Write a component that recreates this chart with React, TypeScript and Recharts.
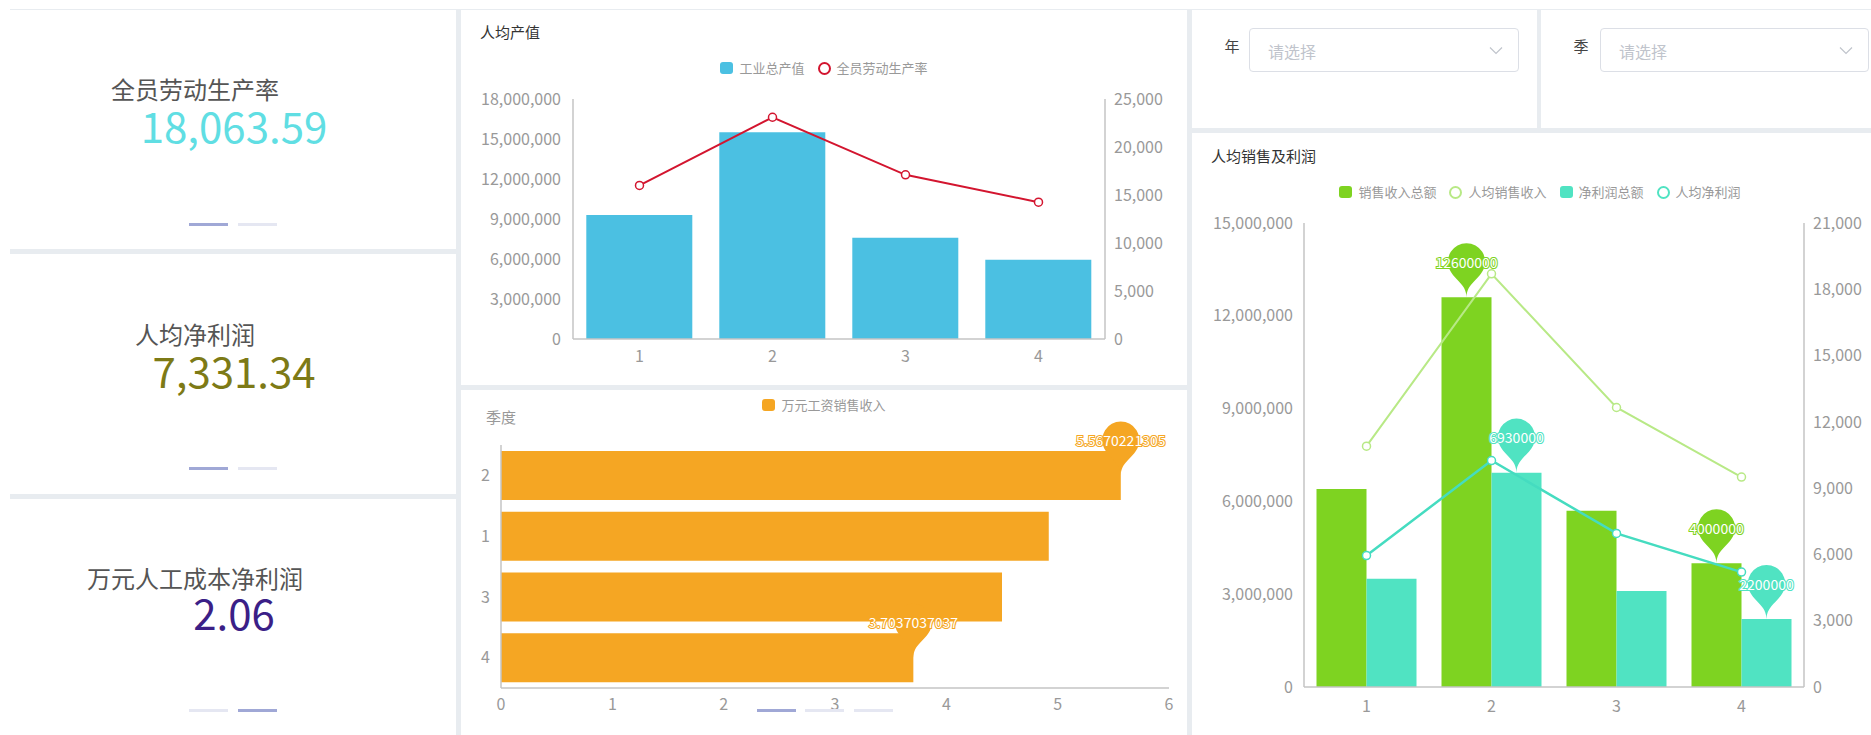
import React from "react";
import { ComposedChart, BarChart, Bar, Line, XAxis, YAxis, LabelList } from "recharts";

// ---- data ----
const kpiTitles = ["全员劳动生产率", "人均净利润", "万元人工成本净利润"];
const kpiValues = ["18,063.59", "7,331.34", "2.06"];

const quarters = ["1", "2", "3", "4"];
const grossOutput = [9300000, 15500000, 7600000, 5950000];
const laborProductivity = [16000, 23100, 17100, 14250];
const outputTicks = [0, 3000000, 6000000, 9000000, 12000000, 15000000, 18000000];
const productivityTicks = [0, 5000, 10000, 15000, 20000, 25000];

const wageQuarters = ["2", "1", "3", "4"];
const wageSales = [5.5670221305, 4.92, 4.5, 3.7037037037];
const wageTicks = [0, 1, 2, 3, 4, 5, 6];

const salesTotal = [6400000, 12600000, 5700000, 4000000];
const salesPerCapita = [10900, 18700, 12650, 9500];
const profitTotal = [3500000, 6930000, 3100000, 2200000];
const profitPerCapita = [5950, 10250, 6950, 5200];
const salesTicks = [0, 3000000, 6000000, 9000000, 12000000, 15000000];
const perCapitaTicks = [0, 3000, 6000, 9000, 12000, 15000, 18000, 21000];

const outputData = quarters.map((q, i) => ({ quarter: q, gross: grossOutput[i], rate: laborProductivity[i] }));
const wageData = wageQuarters.map((q, i) => ({ quarter: q, value: wageSales[i] }));
const salesData = quarters.map((q, i) => ({
  quarter: q,
  sales: salesTotal[i],
  salesPer: salesPerCapita[i],
  profit: profitTotal[i],
  profitPer: profitPerCapita[i],
}));

// ---- styles ----
const FONT = '"Noto Sans CJK SC", "Open Sans", sans-serif';
const BLUE = "#4bc0e2";
const RED = "#d3152f";
const ORANGE = "#f5a623";
const GREEN = "#7ed321";
const TEAL = "#50e3c2";
const TEAL_LINE = "#45dcc0";
const LIGHT_GREEN = "#b8e986";
const AXIS = "#c4c4c4";
const GAP = "#e8ecf0";
const tick = { fill: "#999", fontSize: 16 };
const fmt = (v: number) => v.toLocaleString("en-US");
const PIN_SIZE = 62;

// echarts-like pin balloon, tip at (x, y)
function pinPath(x: number, y: number, size: number) {
  const w = (size / 5) * 3;
  const h = Math.max(w, size);
  const r = w / 2;
  const dy = (r * r) / (h - r);
  const cy = y - h + r + dy;
  const angle = Math.asin(dy / r);
  const dx = Math.cos(angle) * r;
  const tanX = Math.sin(angle);
  const tanY = Math.cos(angle);
  const cp = r * 0.6;
  const cp2 = r * 0.7;
  const d =
    `M${x - dx},${cy + dy} A${r},${r} 0 1 1 ${x + dx},${cy + dy} ` +
    `C${x + dx - tanX * cp},${cy + dy + tanY * cp} ${x},${y - cp2} ${x},${y} ` +
    `C${x},${y - cp2} ${x - dx + tanX * cp},${cy + dy + tanY * cp} ${x - dx},${cy + dy} Z`;
  return { d, cy };
}

function makePin(values: number[], color: string, horizontal: boolean) {
  const max = Math.max(...values);
  const min = Math.min(...values);
  return (props: any) => {
    const value = Number(props.value);
    if (value !== max && value !== min) return null;
    const vb = props.viewBox ?? props;
    const x = Number(vb.x);
    const y = Number(vb.y);
    const w = Number(vb.width);
    const h = Number(vb.height);
    const tipX = horizontal ? x + w : x + w / 2;
    const tipY = horizontal ? y + h / 2 : y;
    const { d, cy } = pinPath(tipX, tipY, PIN_SIZE);
    return (
      <g key={`pin-${props.index}`}>
        <path d={d} fill={color} />
        <text
          x={tipX}
          y={cy}
          textAnchor="middle"
          dominantBaseline="central"
          fontSize={14}
          fill="#fff"
          stroke={color}
          strokeWidth={2}
          paintOrder="stroke"
        >
          {String(props.value)}
        </text>
      </g>
    );
  };
}

type LegendItem = { name: string; color: string; kind: "rect" | "ring" };

function ChartLegend({ items, left, width, top }: { items: LegendItem[]; left: number; width: number; top: number }) {
  return (
    <div
      style={{
        position: "absolute",
        left,
        width,
        top: top - 8,
        height: 16,
        display: "flex",
        justifyContent: "center",
        alignItems: "center",
        gap: 13,
        fontSize: 13,
        color: "#999",
        lineHeight: "16px",
      }}
    >
      {items.map((it) => (
        <div key={it.name} style={{ display: "flex", alignItems: "center", gap: 6 }}>
          {it.kind === "rect" ? (
            <div style={{ width: 13, height: 12, borderRadius: 3, background: it.color }} />
          ) : (
            <div style={{ width: 9, height: 9, borderRadius: "50%", border: `2px solid ${it.color}`, background: "#fff" }} />
          )}
          <span>{it.name}</span>
        </div>
      ))}
    </div>
  );
}

function Panel({ x, y, w, h, children }: { x: number; y: number; w: number; h: number; children?: React.ReactNode }) {
  return <div style={{ position: "absolute", left: x, top: y, width: w, height: h, background: "#fff" }}>{children}</div>;
}

function Dashes({ xs, y, active }: { xs: number[]; y: number; active: number }) {
  return (
    <>
      {xs.map((x, i) => (
        <div
          key={i}
          style={{
            position: "absolute",
            left: x,
            top: y - 1,
            width: 39,
            height: 3,
            background: i === active ? "#a0a8d6" : "#e5e7f2",
          }}
        />
      ))}
    </>
  );
}

function Centered({ x, y, size, color, children }: { x: number; y: number; size: number; color: string; children: React.ReactNode }) {
  return (
    <div
      style={{
        position: "absolute",
        left: x,
        top: y,
        transform: "translate(-50%, -50%)",
        fontSize: size,
        lineHeight: 1,
        color,
        whiteSpace: "nowrap",
      }}
    >
      {children}
    </div>
  );
}

function SelectBox({ label, labelX, x, w }: { label: string; labelX: number; x: number; w: number }) {
  return (
    <>
      <Centered x={labelX} y={45} size={15} color="#444">
        {label}
      </Centered>
      <div
        style={{
          position: "absolute",
          left: x,
          top: 28,
          width: w,
          height: 44,
          boxSizing: "border-box",
          border: "1px solid #dcdfe6",
          borderRadius: 4,
          background: "#fff",
        }}
      >
        <div style={{ position: "absolute", left: 18, top: 12, fontSize: 16, lineHeight: "20px", color: "#c0c4cc" }}>请选择</div>
        <svg style={{ position: "absolute", right: 15, top: 17 }} width={14} height={9}>
          <polyline points="1,1.5 7,7.5 13,1.5" fill="none" stroke="#c0c4cc" strokeWidth={1.2} />
        </svg>
      </div>
    </>
  );
}

const kpiLayout = [
  { titleY: 89, valueY: 125, dashY: 224, active: 0, color: "#60dee3" },
  { titleY: 334, valueY: 370, dashY: 468, active: 0, color: "#7d7a16" },
  { titleY: 578, valueY: 612, dashY: 710, active: 1, color: "#3b1f87" },
];

export default function App() {
  return (
    <div
      style={{
        position: "fixed",
        left: 0,
        top: 0,
        width: 1871,
        height: 735,
        background: "#fff",
        overflow: "hidden",
        fontFamily: FONT,
      }}
    >
      <div style={{ position: "absolute", left: 10, top: 9, right: 0, bottom: 0, background: GAP }} />

      {/* left KPI cards */}
      <Panel x={10} y={10} w={446} h={239} />
      <Panel x={10} y={254} w={446} h={240} />
      <Panel x={10} y={499} w={446} h={236} />
      {kpiLayout.map((k, i) => (
        <React.Fragment key={i}>
          <Centered x={195} y={k.titleY} size={24} color="#555">
            {kpiTitles[i]}
          </Centered>
          <Centered x={234} y={k.valueY} size={42} color={k.color}>
            {kpiValues[i]}
          </Centered>
          <Dashes xs={[189, 238]} y={k.dashY} active={k.active} />
        </React.Fragment>
      ))}

      {/* middle top: 人均产值 */}
      <Panel x={461} y={10} w={726} h={375}>
        <div style={{ position: "absolute", left: 19, top: 12, fontSize: 15, lineHeight: "20px", color: "#333" }}>人均产值</div>
        <ComposedChart
          width={726}
          height={375}
          data={outputData}
          margin={{ top: 89, right: 0, bottom: 0, left: 0 }}
          barCategoryGap="10%"
          style={{ position: "absolute", left: 0, top: 0 }}
        >
          <XAxis dataKey="quarter" height={46} axisLine={{ stroke: AXIS, strokeWidth: 1.5 }} tickLine={false} tick={tick} tickMargin={6} />
          <YAxis
            yAxisId="left"
            width={112}
            domain={[0, 18000000]}
            ticks={outputTicks}
            tickFormatter={fmt}
            axisLine={{ stroke: AXIS, strokeWidth: 1.5 }}
            tickLine={false}
            tick={tick}
            tickMargin={6}
          />
          <YAxis
            yAxisId="right"
            orientation="right"
            width={82}
            domain={[0, 25000]}
            ticks={productivityTicks}
            tickFormatter={fmt}
            axisLine={{ stroke: AXIS, strokeWidth: 1.5 }}
            tickLine={false}
            tick={tick}
            tickMargin={3}
          />
          <Bar yAxisId="left" dataKey="gross" fill={BLUE} isAnimationActive={false} />
          <Line
            yAxisId="right"
            type="linear"
            dataKey="rate"
            stroke={RED}
            strokeWidth={2}
            dot={{ r: 4, fill: "#fff", stroke: RED, strokeWidth: 1.5 }}
            isAnimationActive={false}
          />
        </ComposedChart>
      </Panel>
      <ChartLegend
        left={461}
        width={726}
        top={68}
        items={[
          { name: "工业总产值", color: BLUE, kind: "rect" },
          { name: "全员劳动生产率", color: RED, kind: "ring" },
        ]}
      />

      {/* middle bottom: 万元工资销售收入 */}
      <Panel x={461} y={390} w={726} h={345}>
        <BarChart
          layout="vertical"
          width={726}
          height={345}
          data={wageData}
          margin={{ top: 55, right: 18, bottom: 0, left: 0 }}
          barCategoryGap="10%"
          style={{ position: "absolute", left: 0, top: 0 }}
        >
          <XAxis
            type="number"
            domain={[0, 6]}
            ticks={wageTicks}
            height={47}
            axisLine={{ stroke: AXIS, strokeWidth: 1.5 }}
            tickLine={false}
            tick={tick}
            tickMargin={5}
          />
          <YAxis
            type="category"
            dataKey="quarter"
            width={40}
            axisLine={{ stroke: AXIS, strokeWidth: 1.5 }}
            tickLine={false}
            tick={tick}
            tickMargin={5}
          />
          <Bar dataKey="value" fill={ORANGE} isAnimationActive={false}>
            <LabelList dataKey="value" content={makePin(wageSales, ORANGE, true)} />
          </Bar>
        </BarChart>
        <div style={{ position: "absolute", left: 25, top: 17, fontSize: 15, lineHeight: "20px", color: "#999" }}>季度</div>
      </Panel>
      <ChartLegend left={461} width={726} top={405} items={[{ name: "万元工资销售收入", color: ORANGE, kind: "rect" }]} />
      <Dashes xs={[757, 805, 854]} y={710} active={0} />

      {/* right top: filters */}
      <Panel x={1192} y={10} w={345} h={118} />
      <Panel x={1541} y={10} w={330} h={118} />
      <SelectBox label="年" labelX={1232} x={1249} w={270} />
      <SelectBox label="季" labelX={1581} x={1600} w={269} />

      {/* right: 人均销售及利润 */}
      <Panel x={1192} y={133} w={679} h={602}>
        <div style={{ position: "absolute", left: 19, top: 13, fontSize: 15, lineHeight: "20px", color: "#333" }}>人均销售及利润</div>
        <ComposedChart
          width={679}
          height={602}
          data={salesData}
          margin={{ top: 90, right: 0, bottom: 0, left: 0 }}
          barCategoryGap="10%"
          barGap={0}
          style={{ position: "absolute", left: 0, top: 0 }}
        >
          <XAxis dataKey="quarter" height={48} axisLine={{ stroke: AXIS, strokeWidth: 1.5 }} tickLine={false} tick={tick} tickMargin={8} />
          <YAxis
            yAxisId="left"
            width={112}
            domain={[0, 15000000]}
            ticks={salesTicks}
            tickFormatter={fmt}
            axisLine={{ stroke: AXIS, strokeWidth: 1.5 }}
            tickLine={false}
            tick={tick}
            tickMargin={5}
          />
          <YAxis
            yAxisId="right"
            orientation="right"
            width={67}
            domain={[0, 21000]}
            ticks={perCapitaTicks}
            tickFormatter={fmt}
            axisLine={{ stroke: AXIS, strokeWidth: 1.5 }}
            tickLine={false}
            tick={tick}
            tickMargin={3}
          />
          <Bar yAxisId="left" dataKey="sales" fill={GREEN} isAnimationActive={false}>
            <LabelList dataKey="sales" content={makePin(salesTotal, GREEN, false)} />
          </Bar>
          <Bar yAxisId="left" dataKey="profit" fill={TEAL} isAnimationActive={false}>
            <LabelList dataKey="profit" content={makePin(profitTotal, TEAL, false)} />
          </Bar>
          <Line
            yAxisId="right"
            type="linear"
            dataKey="salesPer"
            stroke={LIGHT_GREEN}
            strokeWidth={2}
            dot={{ r: 4, fill: "#fff", stroke: LIGHT_GREEN, strokeWidth: 1.5 }}
            isAnimationActive={false}
          />
          <Line
            yAxisId="right"
            type="linear"
            dataKey="profitPer"
            stroke={TEAL_LINE}
            strokeWidth={2.5}
            dot={{ r: 4, fill: "#fff", stroke: TEAL_LINE, strokeWidth: 1.5 }}
            isAnimationActive={false}
          />
        </ComposedChart>
      </Panel>
      <ChartLegend
        left={1192}
        width={696}
        top={192}
        items={[
          { name: "销售收入总额", color: GREEN, kind: "rect" },
          { name: "人均销售收入", color: LIGHT_GREEN, kind: "ring" },
          { name: "净利润总额", color: TEAL, kind: "rect" },
          { name: "人均净利润", color: TEAL, kind: "ring" },
        ]}
      />
    </div>
  );
}
